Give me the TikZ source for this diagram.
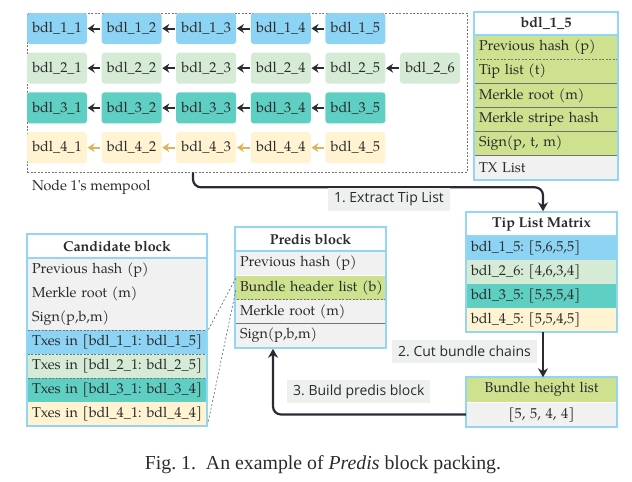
\documentclass[tikz,border=0pt]{standalone}
\usepackage{fontspec}
\newfontfamily\capfont{Liberation Serif}
\newfontfamily\labfont{Open Sans}
\newfontfamily\palfam{TeX Gyre Pagella}
\usetikzlibrary{arrows.meta,calc}
\frenchspacing
\newcommand\palf{\palfam\fontsize{14.3}{17}\selectfont}
\newcommand\palb{\palfam\bfseries\fontsize{14.3}{17}\selectfont}
\definecolor{cblue}{HTML}{8DD4F4}
\definecolor{clgreen}{HTML}{D5EBD6}
\definecolor{cteal}{HTML}{5ECFC2}
\definecolor{ccream}{HTML}{FFF3D2}
\definecolor{cgreen}{HTML}{CDE18F}
\definecolor{cgray}{HTML}{F0F1F0}
\definecolor{cborder}{HTML}{92D6F3}
\definecolor{carrow}{HTML}{2A2A33}
\definecolor{cyarrow}{HTML}{DDB357}
\definecolor{clab}{HTML}{EEEFEF}
\definecolor{ctxt}{HTML}{2B2B2B}
\begin{document}
\begin{tikzpicture}[x=1pt,y=-1pt,
  bdl/.style={rounded corners=3pt, minimum width=60pt, minimum height=31pt, inner sep=0pt, font=\palf, text=ctxt},
  barrow/.style={line width=2pt, -{Stealth[length=7pt,width=9pt]}, shorten <=1pt, shorten >=0.5pt},
  bigarrow/.style={line width=2.2pt, color=carrow, rounded corners=8pt, -{Stealth[length=9pt,width=10pt]}},
  rowA/.style={minimum height=24pt, inner xsep=5pt, inner ysep=0pt, text width=134pt, align=left, font=\palf, text=ctxt},
  rowB/.style={minimum height=24pt, inner xsep=5pt, inner ysep=0pt, text width=141pt, align=left, font=\palf, text=ctxt},
  rowC/.style={minimum height=24pt, inner xsep=5pt, inner ysep=0pt, text width=170pt, align=left, font=\palf, text=ctxt},
  hdr/.style={minimum height=23pt, inner sep=0pt, font=\palb, text=ctxt, fill=white},
  dsh/.style={draw=gray!90!black, dash pattern=on 2pt off 1.5pt, line width=0.6pt},
  bord/.style={draw=cborder, line width=2.2pt},
  lab/.style={fill=clab, font=\labfont\fontsize{14}{16}\selectfont, text=ctxt, inner xsep=6pt, minimum height=23pt},
  thin dashed line/.style={draw=gray!80!black, dash pattern=on 2pt off 2pt, line width=0.6pt}]
\useasboundingbox (0,0) rectangle (632,482);

% mempool
\node[dsh, minimum width=440pt, minimum height=159pt, inner sep=0pt] (mem) at (247,92.5) {};
\foreach \r/\c/\n in {1/cblue/5, 2/clgreen/6, 3/cteal/5, 4/ccream/5} {
  \foreach \i in {1,...,\n} {
    \node[bdl, fill=\c] (b\r\i) at ({57+74.6*(\i-1)}, {28.5+39.7*(\r-1)}) {bdl\_\r\_\i};
  }
}
\foreach \r/\m/\ac in {1/4/carrow, 2/5/carrow, 3/4/carrow, 4/4/cyarrow} {
  \foreach \i in {1,...,\m} {
    \pgfmathtruncatemacro\j{\i+1}
    \draw[barrow, color=\ac] (b\r\j) -- (b\r\i);
  }
}
\node[font=\palf, text=ctxt, anchor=west, inner sep=0pt] (memlab) at (32,187) {Node 1's mempool};

% bdl_1_5 table
\node[hdr, minimum width=144pt] (th) at (546,23.5) {bdl\_1\_5};
\node[rowA, fill=cgreen] (t1) at (546,47.5) {\mbox{Previous hash (p)}};
\node[rowA, fill=cgreen, dsh] (t2) at (546,71.5) {\mbox{Tip list (t)}};
\node[rowA, fill=cgreen, dsh] (t3) at (546,95.5) {\mbox{Merkle root (m)}};
\node[rowA, fill=cgreen, dsh] (t4) at (546,119.5) {\mbox{Merkle stripe hash}};
\node[rowA, fill=cgreen, dsh] (t5) at (546,143.5) {\mbox{Sign(p, t, m)}};
\node[rowA, fill=cgray, dsh] (t6) at (546,167.5) {\mbox{TX List}};
\draw[bord] (th.north west) rectangle (th.south east);
\draw[bord] (th.north west) rectangle (t6.south east);

% Tip list matrix
\node[hdr, minimum width=151pt] (mh) at (541.5,224) {Tip List Matrix};
\node[rowB, fill=cblue] (m1) at (541.5,248) {\mbox{bdl\_1\_5: [5,6,5,5]}};
\node[rowB, fill=clgreen] (m2) at (541.5,272) {\mbox{bdl\_2\_6: [4,6,3,4]}};
\node[rowB, fill=cteal] (m3) at (541.5,296) {\mbox{bdl\_3\_5: [5,5,5,4]}};
\node[rowB, fill=ccream] (m4) at (541.5,320) {\mbox{bdl\_4\_5: [5,5,4,5]}};
\draw[bord] (mh.north west) rectangle (mh.south east);
\draw[bord] (mh.north west) rectangle (m4.south east);

% Bundle height list
\node[rowB, fill=cgreen, align=center] (h1) at (541.5,389.5) {Bundle height list};
\node[rowB, fill=cgray, align=center] (h2) at (541.5,414.5) {[5, 5, 4, 4]};
\draw[bord] (h1.north west) rectangle (h2.south east);

% Predis block
\node[hdr, minimum width=151pt] (ph) at (310.5,239) {Predis block};
\node[rowB, fill=cgray] (p1) at (310.5,263) {\mbox{Previous hash (p)}};
\node[rowB, fill=cgreen] (p2) at (310.5,287.5) {\mbox{Bundle header list (b)}};
\node[rowB, fill=cgray, dsh] (p3) at (310.5,311.5) {\mbox{Merkle root (m)}};
\node[rowB, fill=cgray, dsh] (p4) at (310.5,335.5) {\mbox{Sign(p,b,m)}};
\draw[bord] (ph.north west) rectangle (ph.south east);
\draw[bord] (ph.north west) rectangle (p4.south east);

% Candidate block
\node[hdr, minimum width=180pt] (ch) at (117,246) {Candidate block};
\node[rowC, fill=cgray] (c1) at (117,270) {\mbox{Previous hash (p)}};
\node[rowC, fill=cgray] (c2) at (117,294) {\mbox{Merkle root (m)}};
\node[rowC, fill=cgray] (c3) at (117,318) {\mbox{Sign(p,b,m)}};
\node[rowC, fill=cblue, dsh] (c4) at (117,342) {\mbox{Txes in [bdl\_1\_1: bdl\_1\_5]}};
\node[rowC, fill=clgreen, dsh] (c5) at (117,366) {\mbox{Txes in [bdl\_2\_1: bdl\_2\_5]}};
\node[rowC, fill=cteal, dsh] (c6) at (117,390) {\mbox{Txes in [bdl\_3\_1: bdl\_3\_4]}};
\node[rowC, fill=ccream] (c7) at (117,414) {\mbox{Txes in [bdl\_4\_1: bdl\_4\_4]}};
\draw[bord] (ch.north west) rectangle (ch.south east);
\draw[bord] (ch.north west) rectangle (c7.south east);

% dashed zoom lines
\draw[thin dashed line] ($(p2.north west)+(1,3)$) -- ($(c4.north east)+(1,0)$);
\draw[thin dashed line] ($(p2.north west)+(1,15)$) -- ($(c7.south east)+(1,-4)$);

% big arrows
\draw[bigarrow] ($(mem.south)+(-54,0)$) -- ($(mem.south)+(-54,15)$) -- ($(mh.north)+(1.5,-25)$) -- ($(mh.north)+(1.5,-1)$);
\node[lab] (l1) at (389,199) {1. Extract Tip List};
\draw[bigarrow] (m4.south -| 543,0) -- (h1.north -| 543,0);
\node[lab, anchor=east] (l2) at (537,351) {2. Cut bundle chains};
\draw[bigarrow] (h2.west) -- (273,414.5) -- ($(p4.south -| 273,0)+(0,1)$);
\node[lab, anchor=west] (l3) at (287,391.5) {3. Build predis block};

% caption
\node[font=\capfont\fontsize{19.8}{22}\selectfont, text=ctxt] (cap) at (323,465) {Fig. 1.\ \ An example of \textit{Predis} block packing.};
\end{tikzpicture}
\end{document}
